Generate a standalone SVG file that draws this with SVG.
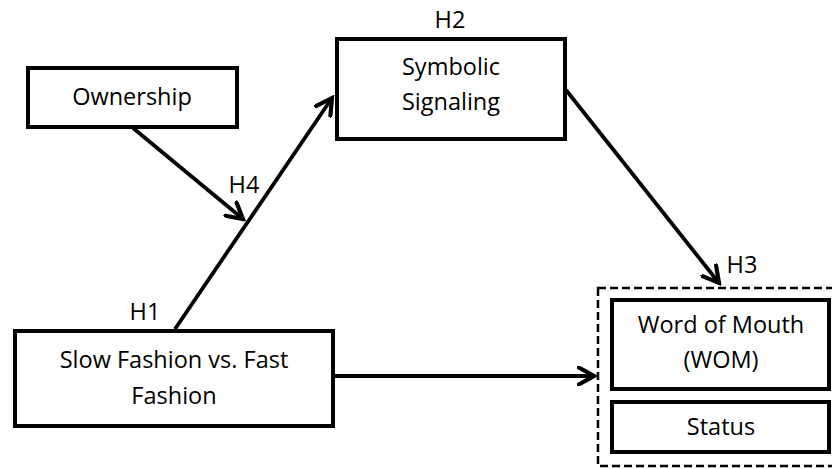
<svg xmlns="http://www.w3.org/2000/svg" width="832" height="468" viewBox="0 0 832 468">
<defs>
<style>
.box{fill:#fff;stroke:#000;stroke-width:4}
.t{font-family:"Open Sans","Liberation Sans",sans-serif;font-size:23.5px;fill:#000;text-anchor:middle}
.c{stroke:#000;stroke-width:3.8;fill:none}
</style>
<marker id="ah" viewBox="0 0 12 12" refX="10" refY="6" markerWidth="5.5" markerHeight="5.5" markerUnits="strokeWidth" orient="auto">
<path d="M1,1 L10,6 L1,11" fill="none" stroke="#000" stroke-width="2.4" stroke-linecap="round" stroke-linejoin="miter"/>
</marker>
</defs>
<rect width="832" height="468" fill="#fff"/>
<g id="connectors">
<line class="c" x1="133" y1="128" x2="243" y2="219" marker-end="url(#ah)"/>
<line class="c" x1="175" y1="329" x2="332" y2="98" marker-end="url(#ah)"/>
<line class="c" x1="566" y1="90" x2="719" y2="283" marker-end="url(#ah)"/>
<line class="c" x1="334" y1="376" x2="594" y2="376" marker-end="url(#ah)"/>
</g>
<g id="ownership">
<rect class="box" x="28" y="68" width="209" height="59"/>
<text class="t" x="132" y="105">Ownership</text>
</g>
<g id="symbolic">
<rect class="box" x="337" y="39" width="228" height="100"/>
<text class="t" x="451" y="75">Symbolic</text>
<text class="t" x="451" y="110">Signaling</text>
</g>
<g id="slowfashion">
<rect class="box" x="15" y="331" width="318" height="95"/>
<text class="t" x="174" y="368">Slow Fashion vs. Fast</text>
<text class="t" x="174" y="404">Fashion</text>
</g>
<g id="outcomes">
<rect x="598" y="288" width="240" height="178" fill="none" stroke="#000" stroke-width="2.5" stroke-dasharray="8,4"/>
</g>
<g id="wom">
<rect class="box" x="612" y="300" width="217" height="89"/>
<text class="t" x="721" y="333">Word of Mouth</text>
<text class="t" x="721" y="368">(WOM)</text>
</g>
<g id="status">
<rect class="box" x="612" y="402" width="217" height="50"/>
<text class="t" x="721" y="435">Status</text>
</g>
<g id="labels">
<text class="t" x="450" y="28">H2</text>
<text class="t" x="244" y="193">H4</text>
<text class="t" x="145" y="320">H1</text>
<text class="t" x="742" y="273">H3</text>
</g>
</svg>
